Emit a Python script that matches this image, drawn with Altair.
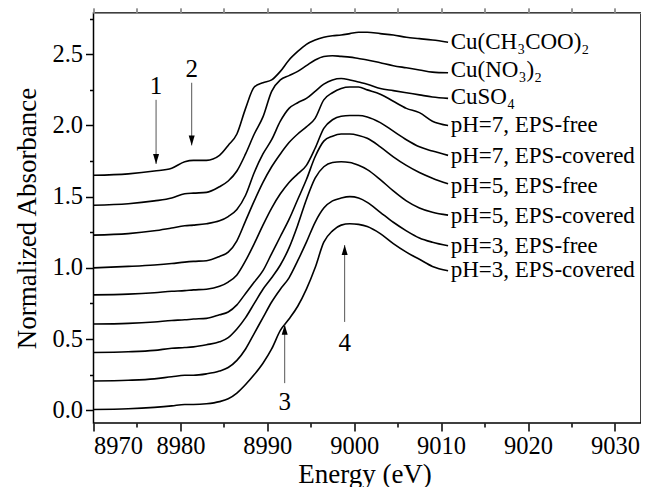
import altair as alt
import pandas as pd

# ---------------- data ----------------
ENERGY = [8970, 8974, 8977, 8979, 8980.5, 8981.5, 8983, 8984.5, 8985.5, 8986.5,
          8987.5, 8988.5, 8989.5, 8990.5, 8991.5, 8992.5, 8993.5, 8994.5, 8995.5,
          8996.5, 8997.5, 8998.5, 8999.5, 9000.5, 9001.5, 9003, 9004.5, 9006,
          9007.5, 9009, 9010.8]

CU_ACETATE = [1.65, 1.66, 1.68, 1.70, 1.745, 1.755, 1.755, 1.79, 1.86, 1.94,
              2.12, 2.27, 2.30, 2.32, 2.38, 2.46, 2.52, 2.57, 2.60,
              2.62, 2.63, 2.635, 2.645, 2.655, 2.655, 2.645, 2.635, 2.62,
              2.61, 2.60, 2.585]
CU_NITRATE = [1.44, 1.45, 1.47, 1.49, 1.52, 1.525, 1.53, 1.57, 1.61, 1.68,
              1.80, 1.94, 2.06, 2.24, 2.32, 2.35, 2.38, 2.42, 2.46,
              2.485, 2.49, 2.485, 2.48, 2.47, 2.46, 2.44, 2.42, 2.405,
              2.39, 2.375, 2.37]
CU_SULFATE = [1.23, 1.24, 1.26, 1.28, 1.295, 1.30, 1.31, 1.33, 1.36, 1.41,
              1.51, 1.67, 1.80, 1.90, 2.03, 2.12, 2.16, 2.19, 2.24,
              2.29, 2.32, 2.33, 2.32, 2.305, 2.29, 2.26, 2.245, 2.23,
              2.215, 2.20, 2.19]
PH7_FREE = [1.00, 1.01, 1.02, 1.03, 1.04, 1.045, 1.05, 1.08, 1.11, 1.19,
            1.33, 1.47, 1.60, 1.71, 1.80, 1.88, 1.94, 1.99, 2.05,
            2.18, 2.23, 2.26, 2.27, 2.27, 2.25, 2.22, 2.17, 2.12,
            2.09, 2.03, 2.00]
PH7_COVERED = [0.81, 0.815, 0.825, 0.835, 0.84, 0.845, 0.85, 0.87, 0.90, 0.95,
               1.05, 1.17, 1.30, 1.42, 1.52, 1.60, 1.66, 1.72, 1.84,
               1.98, 2.04, 2.065, 2.07, 2.07, 2.06, 2.02, 1.96, 1.90,
               1.85, 1.82, 1.79]
PH5_FREE = [0.605, 0.61, 0.62, 0.63, 0.635, 0.64, 0.645, 0.67, 0.69, 0.74,
            0.82, 0.90, 0.98, 1.10, 1.22, 1.34, 1.48, 1.62, 1.78,
            1.89, 1.925, 1.94, 1.94, 1.93, 1.91, 1.85, 1.78, 1.72,
            1.67, 1.63, 1.59]
PH5_COVERED = [0.405, 0.41, 0.42, 0.435, 0.44, 0.445, 0.46, 0.48, 0.51, 0.57,
               0.65, 0.75, 0.85, 0.93, 1.02, 1.14, 1.30, 1.48, 1.63,
               1.71, 1.74, 1.745, 1.74, 1.72, 1.69, 1.62, 1.54, 1.47,
               1.42, 1.39, 1.37]
PH3_FREE = [0.205, 0.21, 0.22, 0.235, 0.245, 0.245, 0.255, 0.275, 0.30, 0.35,
            0.43, 0.54, 0.65, 0.76, 0.85, 0.93, 1.05, 1.18, 1.32,
            1.42, 1.47, 1.49, 1.50, 1.49, 1.46, 1.39, 1.32, 1.26,
            1.21, 1.18, 1.155]
PH3_COVERED = [0.005, 0.01, 0.02, 0.03, 0.04, 0.04, 0.045, 0.06, 0.08, 0.12,
               0.18, 0.25, 0.33, 0.43, 0.56, 0.64, 0.73, 0.85, 1.00,
               1.18, 1.26, 1.30, 1.31, 1.305, 1.29, 1.24, 1.17, 1.11,
               1.06, 1.01, 0.98]

SAMPLES = ["Cu(CH₃COO)₂", "Cu(NO₃)₂", "CuSO₄",
           "pH=7, EPS-free", "pH=7, EPS-covered",
           "pH=5, EPS-free", "pH=5, EPS-covered",
           "pH=3, EPS-free", "pH=3, EPS-covered"]
SERIES = [CU_ACETATE, CU_NITRATE, CU_SULFATE, PH7_FREE, PH7_COVERED,
          PH5_FREE, PH5_COVERED, PH3_FREE, PH3_COVERED]

LABEL_E = 9011.1
LABEL_Y = [2.584, 2.388, 2.198, 2.001, 1.784, 1.573, 1.362, 1.152, 0.985]

ARROW_NUM = ["1", "2", "3", "4"]
ARROW_E = [8977.2, 8981.3, 8992.0, 8998.9]
ARROW_FROM = [2.18, 2.30, 0.19, 0.62]
ARROW_TO = [1.73, 1.86, 0.60, 1.16]
ARROW_DIR = ["down", "down", "up", "up"]
NUM_Y = [2.28, 2.40, 0.06, 0.47]

X_MAJOR = [8970, 8980, 8990, 9000, 9010, 9020, 9030]
X_MINOR = [8975, 8985, 8995, 9005, 9015, 9025]
Y_MAJOR = [0.0, 0.5, 1.0, 1.5, 2.0, 2.5]
Y_MINOR = [0.25, 0.75, 1.25, 1.75, 2.25, 2.75]

FONT = "Liberation Serif"

# ---------------- tables ----------------
rows = []
for name, ys in zip(SAMPLES, SERIES):
    for i, (e, a) in enumerate(zip(ENERGY, ys)):
        rows.append({"sample": name, "E": e, "A": a, "i": i})
curves = pd.DataFrame(rows)

labels = pd.DataFrame({"sample": SAMPLES, "E": [LABEL_E] * len(SAMPLES), "A": LABEL_Y})

arrows = pd.DataFrame({"num": ARROW_NUM, "E": ARROW_E, "y0": ARROW_FROM,
                       "y1": ARROW_TO, "dir": ARROW_DIR, "ny": NUM_Y})

xscale = alt.Scale(domain=[8970, 9033], nice=False, zero=False)
yscale = alt.Scale(domain=[-0.09, 2.79], nice=False, zero=False)

axis_common = dict(domain=False, tickColor="black", tickWidth=1.5,
                   labelFont=FONT, labelFontSize=24.5, labelColor="black",
                   titleFont=FONT, titleFontSize=27, titleColor="black",
                   titleFontWeight="normal", grid=False)

x_major_axis = alt.Axis(values=X_MAJOR, orient="bottom", tickSize=8, labelPadding=3,
                        format="d", title="Energy (eV)", titleX=271, titleY=59,
                        titleBaseline="alphabetic", titleAlign="center",
                        **axis_common)
y_major_axis = alt.Axis(values=Y_MAJOR, orient="left", tickSize=8, labelPadding=3,
                        format=".1f", title="Normalized Absorbance",
                        titleX=-58, titleY=205, titleAngle=270,
                        titleBaseline="alphabetic", titleAlign="center",
                        **axis_common)
x_minor_axis = alt.Axis(values=X_MINOR, orient="bottom", tickSize=4, labels=False,
                        title="", domain=False, tickColor="black", tickWidth=1.5,
                        grid=False)
y_minor_axis = alt.Axis(values=Y_MINOR, orient="left", tickSize=4, labels=False,
                        title="", domain=False, tickColor="black", tickWidth=1.5,
                        grid=False)

lines = alt.Chart(curves).mark_line(color="black", strokeWidth=1.6,
                                    interpolate="monotone").encode(
    x=alt.X("E:Q", scale=xscale, axis=x_major_axis),
    y=alt.Y("A:Q", scale=yscale, axis=y_major_axis),
    detail="sample:N",
    order="i:Q",
)

text_labels = alt.Chart(labels).mark_text(
    align="left", baseline="middle", font=FONT, fontSize=23, color="black"
).encode(
    x=alt.X("E:Q", scale=xscale, axis=x_minor_axis),
    y=alt.Y("A:Q", scale=yscale, axis=y_minor_axis),
    text="sample:N",
)

arrow_lines = alt.Chart(arrows).mark_rule(color="#555555", strokeWidth=1).encode(
    x=alt.X("E:Q", scale=xscale),
    y=alt.Y("y0:Q", scale=yscale),
    y2="y1:Q",
)

HEAD_DOWN = "M0,0L-0.6,-2L0.6,-2Z"
HEAD_UP = "M0,0L-0.6,2L0.6,2Z"
arrow_heads = alt.Chart(arrows).mark_point(filled=True, color="black", opacity=1,
                                           size=100, strokeWidth=0).encode(
    x=alt.X("E:Q", scale=xscale),
    y=alt.Y("y1:Q", scale=yscale),
    shape=alt.Shape("dir:N", scale=alt.Scale(domain=["down", "up"],
                                             range=[HEAD_DOWN, HEAD_UP]),
                    legend=None),
)

arrow_nums = alt.Chart(arrows).mark_text(
    align="center", baseline="middle", font=FONT, fontSize=25, color="black"
).encode(
    x=alt.X("E:Q", scale=xscale),
    y=alt.Y("ny:Q", scale=yscale),
    text="num:N",
)

chart = alt.layer(lines, text_labels, arrow_lines, arrow_heads, arrow_nums).resolve_axis(
    x="independent", y="independent"
).properties(
    width=547.5, height=410,
    autosize=alt.AutoSizeParams(type="none"),
    padding={"left": 85.5, "top": 5, "right": 0, "bottom": 64},
    background="white",
).configure_view(stroke="black", strokeWidth=1.5)

chart.save("out.html", embed_options={"renderer": "svg", "actions": False})
